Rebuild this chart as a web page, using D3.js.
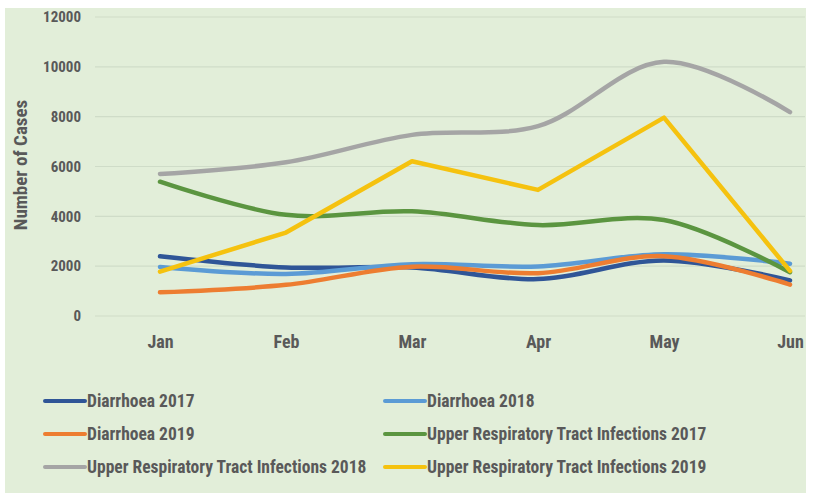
<!DOCTYPE html>
<html>
<head>
<meta charset="utf-8">
<script src="https://cdn.jsdelivr.net/npm/d3@7"></script>
<style>
  body { margin: 0; background: #fff; }
  svg text { font-family: "Liberation Sans Narrow", "Arial Narrow", "Roboto Condensed", sans-serif; }
</style>
</head>
<body>
<svg width="813" height="495"></svg>
<script>
  var months = ['Jan', 'Feb', 'Mar', 'Apr', 'May', 'Jun'];
  var yTicks = [0, 2000, 4000, 6000, 8000, 10000, 12000];

  var diarrhoea2017 = [2400, 1950, 1950, 1480, 2230, 1430];
  var diarrhoea2018 = [1970, 1690, 2080, 1990, 2480, 2100];
  var diarrhoea2019 = [950, 1250, 1980, 1720, 2400, 1260];
  var urti2017 = [5390, 4060, 4200, 3650, 3850, 1760];
  var urti2018 = [5700, 6170, 7270, 7620, 10200, 8180];
  var urti2019 = [1780, 3350, 6210, 5060, 7960, 1810];

  var series = [
    { name: 'Diarrhoea 2017', values: diarrhoea2017, color: '#2f5597', smooth: true },
    { name: 'Diarrhoea 2018', values: diarrhoea2018, color: '#5b9bd5', smooth: true },
    { name: 'Diarrhoea 2019', values: diarrhoea2019, color: '#ed7d31', smooth: true },
    { name: 'Upper Respiratory Tract Infections 2017', values: urti2017, color: '#5b9540', smooth: true },
    { name: 'Upper Respiratory Tract Infections 2018', values: urti2018, color: '#a5a5a5', smooth: true },
    { name: 'Upper Respiratory Tract Infections 2019', values: urti2019, color: '#f5c20f', smooth: false }
  ];

  var svg = d3.select('svg');

  // green chart area
  svg.append('rect')
    .attr('x', 5).attr('y', 8)
    .attr('width', 801).attr('height', 485)
    .attr('fill', '#e2eed9');

  var x = d3.scalePoint()
    .domain(months)
    .range([160, 790]);
  var y = d3.scaleLinear()
    .domain([0, 12000])
    .range([316, 17]);

  // gridlines
  svg.append('g')
    .selectAll('line')
    .data(yTicks)
    .enter().append('line')
      .attr('x1', 95).attr('x2', 805)
      .attr('y1', function(d) { return y(d); })
      .attr('y2', function(d) { return y(d); })
      .attr('stroke', '#cfdcc8')
      .attr('stroke-width', 1.2);

  // y axis labels
  var yAxis = svg.append('g')
    .attr('transform', 'translate(81,0)')
    .call(d3.axisLeft(y).tickValues(yTicks).tickSize(0).tickPadding(0).tickFormat(d3.format('d')));
  yAxis.select('.domain').remove();
  yAxis.selectAll('text')
    .attr('fill', '#595959')
    .attr('font-size', '15px')
    .attr('font-weight', 'bold');

  // x axis labels
  var xAxis = svg.append('g')
    .attr('transform', 'translate(0,335)')
    .call(d3.axisBottom(x).tickSize(0).tickPadding(0));
  xAxis.select('.domain').remove();
  xAxis.selectAll('text')
    .attr('fill', '#595959')
    .attr('font-size', '18px')
    .attr('font-weight', 'bold');

  svg.append('text')
    .attr('transform', 'translate(27,165) rotate(-90)')
    .attr('text-anchor', 'middle')
    .attr('fill', '#595959')
    .attr('font-size', '19px')
    .attr('font-weight', 'bold')
    .text('Number of Cases');

  // lines
  var smoothLine = d3.line()
    .x(function(d, i) { return x(months[i]); })
    .y(function(d) { return y(d); })
    .curve(d3.curveCatmullRom.alpha(0.5));
  var straightLine = d3.line()
    .x(function(d, i) { return x(months[i]); })
    .y(function(d) { return y(d); });

  svg.append('g')
    .selectAll('path')
    .data(series)
    .enter().append('path')
      .attr('d', function(d) { return d.smooth ? smoothLine(d.values) : straightLine(d.values); })
      .attr('fill', 'none')
      .attr('stroke', function(d) { return d.color; })
      .attr('stroke-width', 4.5)
      .attr('stroke-linecap', 'round')
      .attr('stroke-linejoin', 'round');

  // legend
  var legend = svg.append('g')
    .selectAll('g')
    .data(series)
    .enter().append('g')
      .attr('transform', function(d, i) {
        return 'translate(' + (i % 2 ? 385 : 45) + ',' + (401 + Math.floor(i / 2) * 33) + ')';
      });
  legend.append('line')
    .attr('x1', 0).attr('x2', 40)
    .attr('stroke', function(d) { return d.color; })
    .attr('stroke-width', 4)
    .attr('stroke-linecap', 'round');
  legend.append('text')
    .attr('x', 42)
    .attr('dy', '0.35em')
    .attr('fill', '#595959')
    .attr('font-size', '17.5px')
    .attr('font-weight', 'bold')
    .text(function(d) { return d.name; });
</script>
</body>
</html>
